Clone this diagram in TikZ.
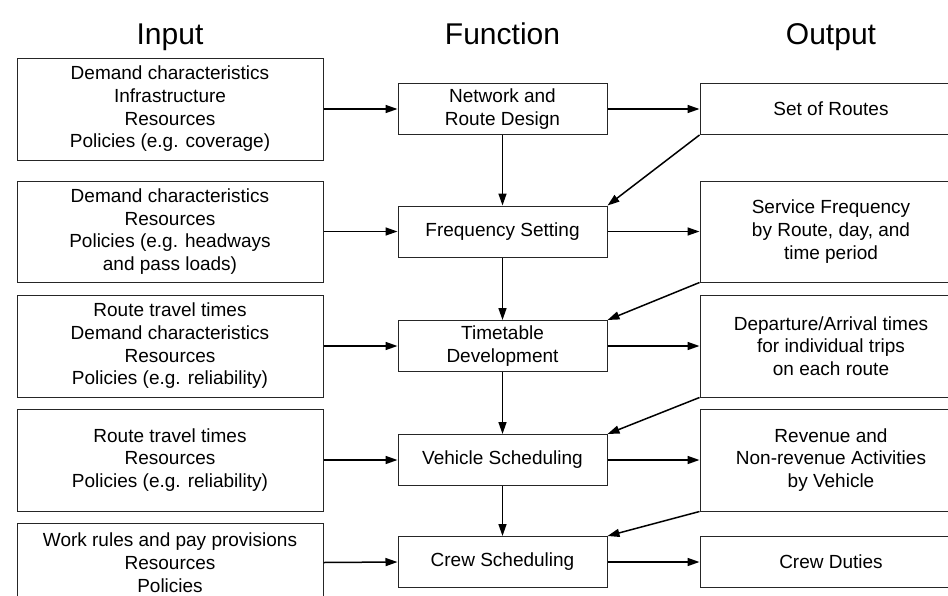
\documentclass[tikz,border=0pt]{standalone}
\usepackage{fontspec}
\setmainfont{Liberation Sans}
\usetikzlibrary{arrows.meta}
\tikzset{
  box/.style={draw=black!85, line width=1pt, rectangle, inner sep=0pt, align=center,
    font=\fontsize{19}{22.7}\selectfont},
  inbox/.style={box, minimum width=306pt},
  fnbox/.style={box, minimum width=209pt, minimum height=51pt},
  outbox/.style={box, minimum width=262pt},
  head/.style={font=\fontsize{30}{34}\selectfont, inner sep=0pt, anchor=base},
  arr/.style={-{Triangle[length=12pt,width=8pt]}, line width=1.5pt}
}
\begin{document}
\begin{tikzpicture}[x=1pt,y=-1pt]
\clip (0,0) rectangle (948,595);
\fill[white] (0,0) rectangle (948,595);
% headers
\node[head] (hin) at (170,44) {Input};
\node[head] (hfn) at (502.5,44) {Function};
\node[head] (hout) at (831,44) {Output};
% input boxes
\node[inbox, minimum height=102pt] (i1) at (170,109) {Demand characteristics\\Infrastructure\\Resources\\Policies (e.g. coverage)};
\node[inbox, minimum height=101pt] (i2) at (170,231.5) {Demand characteristics\\Resources\\Policies (e.g. headways\\and pass loads)};
\node[inbox, minimum height=102pt] (i3) at (170,346) {Route travel times\\Demand characteristics\\Resources\\Policies (e.g. reliability)};
\node[inbox, minimum height=102pt] (i4) at (170,460) {Route travel times\\Resources\\Policies (e.g. reliability)};
\node[inbox, minimum height=79pt] (i5) at (170,562.5) {Work rules and pay provisions\\Resources\\Policies};
% function boxes
\node[fnbox] (f1) at (502.5,109) {Network and\\Route Design};
\node[fnbox] (f2) at (502.5,231.5) {Frequency Setting};
\node[fnbox] (f3) at (502.5,346) {Timetable\\Development};
\node[fnbox] (f4) at (502.5,460) {Vehicle Scheduling};
\node[fnbox] (f5) at (502.5,562) {Crew Scheduling};
% output boxes
\node[outbox, minimum height=51pt] (o1) at (831,109) {Set of Routes};
\node[outbox, minimum height=101pt] (o2) at (831,231.5) {Service Frequency\\by Route, day, and\\time period};
\node[outbox, minimum height=102pt] (o3) at (831,346) {Departure/Arrival times\\for individual trips\\on each route};
\node[outbox, minimum height=102pt] (o4) at (831,460) {Revenue and\\Non-revenue Activities\\by Vehicle};
\node[outbox, minimum height=51pt] (o5) at (831,562) {Crew Duties};
% input -> function -> output
\foreach \k in {1,...,5} {
  \draw[arr] (i\k.east) -- (f\k.west);
  \draw[arr] (f\k.east) -- (o\k.west);
}
% function chain
\draw[arr] (f1.south) -- (f2.north);
\draw[arr] (f2.south) -- (f3.north);
\draw[arr] (f3.south) -- (f4.north);
\draw[arr] (f4.south) -- (f5.north);
% output feedback
\draw[arr] (o1.south west) -- (f2.north east);
\draw[arr] (o2.south west) -- (f3.north east);
\draw[arr] (o3.south west) -- (f4.north east);
\draw[arr] (o4.south west) -- (f5.north east);
\end{tikzpicture}
\end{document}
